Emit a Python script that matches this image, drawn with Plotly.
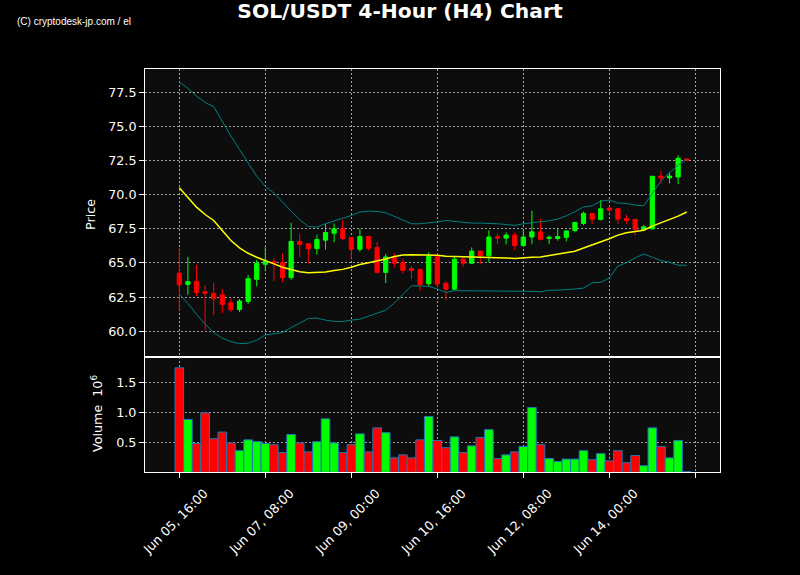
import pandas as pd
import plotly.graph_objects as go

# ---------------- data ----------------
times = pd.date_range("2024-06-05 16:00", periods=60, freq="4h")

open_ = [64.25, 63.43, 63.63, 62.89, 62.77, 62.67, 62.08, 61.59, 62.18, 63.80,
         64.90, 65.10, 65.02, 63.92, 66.57, 66.40, 66.05, 66.67, 67.18, 67.50,
         66.86, 66.00, 66.94, 66.13, 64.31, 65.42, 65.02, 64.58, 64.53, 63.48,
         65.45, 63.52, 63.08, 65.28, 64.98, 65.87, 65.52, 66.92, 66.82, 67.04,
         66.27, 66.90, 67.28, 66.79, 66.79, 66.88, 67.38, 67.89, 68.63, 68.19,
         69.02, 68.97, 68.26, 68.19, 67.45, 67.50, 71.37, 71.23, 71.30, 72.62]
high = [66.10, 65.44, 64.85, 63.38, 63.55, 63.09, 62.40, 62.35, 64.12, 65.22,
        66.15, 65.37, 65.69, 67.94, 67.13, 66.45, 67.06, 67.89, 67.89, 68.16,
        66.90, 67.50, 67.01, 66.54, 65.66, 65.74, 65.29, 64.78, 64.55, 65.78,
        65.71, 63.63, 65.43, 65.45, 66.14, 65.88, 67.39, 67.12, 67.25, 67.22,
        67.46, 68.82, 68.24, 67.01, 67.50, 67.35, 67.98, 68.77, 68.65, 69.61,
        69.19, 69.00, 68.53, 68.20, 67.79, 71.35, 71.76, 71.62, 72.89, 72.65]
low = [61.50, 62.67, 62.55, 60.07, 61.17, 61.32, 61.40, 61.40, 61.99, 63.28,
       64.39, 63.68, 63.60, 63.77, 65.44, 64.97, 65.61, 65.98, 66.52, 66.67,
       65.25, 65.83, 65.93, 64.24, 63.53, 64.66, 64.22, 63.82, 62.97, 63.31,
       63.21, 62.30, 63.05, 64.72, 64.95, 64.92, 65.05, 66.36, 66.36, 65.92,
       66.25, 66.40, 66.64, 66.37, 66.64, 66.59, 67.25, 67.77, 67.84, 68.11,
       68.68, 67.84, 67.89, 67.01, 67.33, 67.45, 70.81, 70.83, 70.78, 72.50]
close = [63.40, 63.63, 62.84, 62.77, 62.37, 61.96, 61.59, 62.21, 63.85, 64.98,
         65.12, 65.00, 63.92, 66.57, 66.35, 66.03, 66.72, 67.23, 67.50, 66.79,
         66.00, 66.94, 66.08, 64.31, 65.44, 64.98, 64.46, 64.46, 63.41, 65.47,
         63.45, 63.08, 65.28, 64.98, 65.87, 65.52, 66.90, 66.82, 67.04, 66.27,
         66.90, 67.28, 66.74, 66.89, 66.94, 67.35, 67.97, 68.63, 68.21, 68.97,
         68.87, 68.21, 68.11, 67.45, 67.65, 71.35, 71.23, 71.37, 72.67, 72.52]
volume_1e6 = [1.74, 0.88, 0.48, 0.99, 0.56, 0.67, 0.49, 0.36, 0.54, 0.51,
              0.48, 0.46, 0.33, 0.63, 0.49, 0.34, 0.51, 0.89, 0.49, 0.33,
              0.46, 0.64, 0.34, 0.74, 0.66, 0.24, 0.29, 0.24, 0.54, 0.93,
              0.53, 0.41, 0.59, 0.33, 0.44, 0.58, 0.71, 0.23, 0.29, 0.34,
              0.43, 1.08, 0.46, 0.23, 0.18, 0.22, 0.22, 0.36, 0.21, 0.31,
              0.19, 0.36, 0.16, 0.28, 0.11, 0.74, 0.43, 0.24, 0.53, 0.01]
bb_upper = [78.26, 77.79, 77.23, 76.76, 76.45, 75.34, 74.29, 73.31, 72.33, 71.35,
            70.61, 70.12, 69.46, 68.80, 68.16, 67.67, 67.62, 67.87, 68.05, 68.28,
            68.48, 68.73, 68.80, 68.77, 68.68, 68.41, 68.11, 67.87, 67.87, 67.92,
            68.01, 68.11, 68.04, 67.97, 67.92, 67.92, 67.92, 67.87, 67.82, 67.75,
            67.87, 67.94, 67.99, 68.09, 68.21, 68.45, 68.75, 69.10, 69.19, 69.53,
            69.61, 69.39, 69.36, 69.24, 69.19, 70.12, 71.00, 71.62, 72.16, 72.60]
bb_mid = [70.51, 69.83, 69.09, 68.55, 68.11, 67.38, 66.64, 66.10, 65.71, 65.42,
          65.15, 64.93, 64.68, 64.51, 64.36, 64.29, 64.29, 64.34, 64.44, 64.53,
          64.68, 64.88, 65.02, 65.15, 65.29, 65.47, 65.59, 65.61, 65.61, 65.61,
          65.56, 65.49, 65.49, 65.47, 65.44, 65.42, 65.42, 65.39, 65.37, 65.32,
          65.38, 65.42, 65.44, 65.54, 65.61, 65.71, 65.86, 66.10, 66.32, 66.52,
          66.77, 67.04, 67.21, 67.30, 67.40, 67.70, 67.94, 68.14, 68.43, 68.73]
bb_lower = [62.72, 62.03, 61.25, 60.51, 59.90, 59.49, 59.24, 59.09, 59.12, 59.34,
            59.73, 59.83, 59.90, 60.27, 60.59, 60.93, 60.96, 60.81, 60.72, 60.71,
            60.81, 60.88, 61.10, 61.30, 61.54, 62.06, 62.72, 63.33, 63.31, 63.28,
            63.09, 62.84, 62.97, 62.97, 62.94, 62.92, 62.92, 62.94, 62.97, 62.97,
            62.93, 62.92, 62.89, 62.99, 63.01, 63.04, 63.09, 63.16, 63.55, 63.58,
            63.90, 64.78, 65.02, 65.37, 65.66, 65.42, 65.17, 65.05, 64.83, 64.83]

price_ticks = [60.0, 62.5, 65.0, 67.5, 70.0, 72.5, 75.0, 77.5]
volume_ticks = [0.5, 1.0, 1.5]
tick_index = [0, 10, 20, 30, 40, 50, 60]   # every 10 candles

title_text = "SOL/USDT 4-Hour (H4) Chart"
watermark_text = "(C) cryptodesk-jp.com / el"

# ---------------- derived ----------------
step = pd.Timedelta(hours=4)
t0 = times[0]
tick_vals = [t0 + step * i for i in tick_index]
tick_text = [(t0 + step * i).strftime("%b %d, %H:%M") if i < len(times) else "" for i in tick_index]
vol_colors = ["#00ff00" if c >= o else "#ff0000" for o, c in zip(open_, close)]
x_range = [t0 + step * -3.99, t0 + step * 62.87]

GRID = "#a0a0a0"
FONT = "DejaVu Sans"
TICKFONT = dict(family=FONT, size=12.7, color="white")

fig = go.Figure()
fig.add_trace(go.Candlestick(
    x=times, open=open_, high=high, low=low, close=close,
    increasing=dict(line=dict(color="#00ff00", width=1), fillcolor="#00ff00"),
    decreasing=dict(line=dict(color="#ff0000", width=1), fillcolor="#ff0000"),
    xaxis="x", yaxis="y", showlegend=False, hoverinfo="skip"))
fig.add_trace(go.Scatter(x=times, y=bb_upper, mode="lines", line=dict(color="#008080", width=1),
                         xaxis="x", yaxis="y", showlegend=False, hoverinfo="skip"))
fig.add_trace(go.Scatter(x=times, y=bb_lower, mode="lines", line=dict(color="#008080", width=1),
                         xaxis="x", yaxis="y", showlegend=False, hoverinfo="skip"))
fig.add_trace(go.Scatter(x=times, y=bb_mid, mode="lines", line=dict(color="#ffff00", width=1.5),
                         xaxis="x", yaxis="y", showlegend=False, hoverinfo="skip"))
fig.add_trace(go.Bar(
    x=times, y=volume_1e6, width=step.total_seconds() * 1000,
    marker=dict(color=vol_colors, line=dict(color="#1f77b4", width=1)),
    xaxis="x2", yaxis="y2", showlegend=False, hoverinfo="skip"))

split = 115 / 403
axis_common = dict(showline=True, mirror=True, linecolor="white", linewidth=1,
                   showgrid=True, gridcolor=GRID, gridwidth=1, griddash="2px,2px",
                   zeroline=False)

fig.update_layout(
    width=800, height=575,
    paper_bgcolor="black", plot_bgcolor="#0d0d0d",
    margin=dict(l=145, r=80, t=69, b=103),
    showlegend=False,
    title=dict(text=title_text, x=0.5, xanchor="center", xref="container",
               y=1 - 11 / 575, yanchor="middle", yref="container",
               font=dict(family=FONT, size=20.3, color="white", weight="bold")),
    xaxis=dict(domain=[0, 1], anchor="y", type="date", range=x_range, matches="x2",
               tickvals=tick_vals, showticklabels=False, ticks="",
               rangeslider=dict(visible=False), **axis_common),
    yaxis=dict(domain=[split, 1], anchor="x", range=[58.11, 79.21], tickvals=price_ticks,
               ticktext=[f"{v:.1f}" for v in price_ticks],
               ticks="outside", ticklen=5, tickcolor="white", tickfont=TICKFONT, **axis_common),
    xaxis2=dict(domain=[0, 1], anchor="y2", type="date", range=x_range,
                tickvals=tick_vals, ticktext=tick_text, tickangle=-45, ticklabelshift=25,
                ticklabelstandoff=3,
                ticks="outside", ticklen=5, tickcolor="white", tickfont=TICKFONT, **axis_common),
    yaxis2=dict(domain=[0, split], anchor="x2", range=[0.005, 1.92], tickvals=volume_ticks,
                ticktext=[f"{v:.1f}" for v in volume_ticks],
                ticks="outside", ticklen=5, tickcolor="white", tickfont=TICKFONT, **axis_common),
    annotations=[
        dict(text=watermark_text, xref="paper", yref="paper", x=0, y=1,
             xanchor="left", yanchor="middle", xshift=15 - 145, yshift=69 - 21,
             showarrow=False, font=dict(family="Liberation Sans", size=10, color="white")),
        dict(text="Price", xref="paper", yref="paper", x=0, y=(472 - 215) / 403,
             xanchor="center", yanchor="middle", xshift=90 - 145, textangle=-90,
             showarrow=False, font=dict(family=FONT, size=12.7, color="white")),
        dict(text="Volume  10<sup>6</sup>", xref="paper", yref="paper", x=0, y=(472 - 414) / 403,
             xanchor="center", yanchor="middle", xshift=97 - 145, textangle=-90,
             showarrow=False, font=dict(family=FONT, size=12.7, color="white")),
    ],
)

# remove the browser's default 8px page margin so the 800x575 figure fills the window
fig.write_html("out.html", config={"displayModeBar": False},
               post_script="document.body.style.margin='0';")
